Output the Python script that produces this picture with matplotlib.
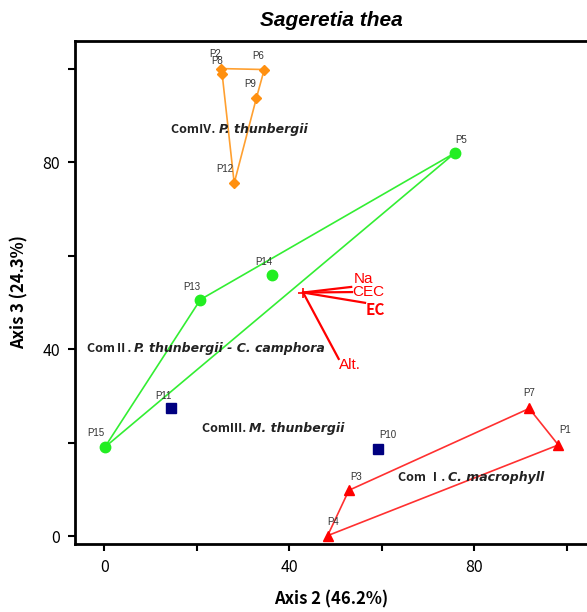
import matplotlib.pyplot as plt

# Sageretia thea - ordination plot (Axis 2 vs Axis 3)
plt.rcParams['font.family'] = ['Liberation Sans', 'DejaVu Sans']

plots = ['P1', 'P7', 'P3', 'P4', 'P10', 'P11', 'P15', 'P13', 'P14', 'P5',
         'P2', 'P8', 'P6', 'P9', 'P12']
axis2 = [98.2, 91.9, 52.9, 48.3, 59.1, 14.5, 0.1, 20.8, 36.3, 75.9,
         25.3, 25.5, 34.6, 32.9, 28.1]
axis3 = [19.5, 27.3, 9.8, 0.1, 18.6, 27.5, 19.0, 50.6, 55.8, 82.0,
         100.0, 98.8, 99.8, 93.7, 75.5]
community = ['I', 'I', 'I', 'I', 'III', 'III', 'II', 'II', 'II', 'II',
             'IV', 'IV', 'IV', 'IV', 'IV']

# hull outlines drawn in the original
hull_I = ['P4', 'P3', 'P7', 'P1', 'P4']
hull_II = ['P15', 'P13', 'P5', 'P15']
hull_IV = ['P2', 'P6', 'P9', 'P12', 'P8', 'P2']

# environmental vectors
env_names = ['Na', 'CEC', 'EC', 'Alt.']
env_origin = (43.0, 52.1)
env_x = [53.4, 53.6, 56.4, 50.7]
env_y = [53.3, 52.2, 49.9, 37.9]

styles = {
    'I': dict(marker='^', color='#ff0000', ms=7.5),
    'II': dict(marker='o', color='#22ee22', ms=7.5),
    'III': dict(marker='s', color='#000080', ms=7),
    'IV': dict(marker='D', color='#ff9010', ms=5),
}
hull_colors = {'I': '#ff3030', 'II': '#33ee33', 'IV': '#ffa030'}

# label offsets in pixels (dx, dy)
lab_off = {'P1': (7, 15), 'P7': (0, 15), 'P3': (7, 13), 'P4': (6, 14),
           'P10': (10, 14), 'P11': (-8, 12), 'P15': (-9, 14), 'P13': (-9, 13),
           'P14': (-8, 13), 'P5': (6, 13), 'P2': (-6, 15), 'P8': (-5, 13),
           'P6': (-6, 14), 'P9': (-6, 14), 'P12': (-9, 14)}

cjk = ['Noto Sans CJK KR', 'DejaVu Sans']

fig = plt.figure(figsize=(5.87, 6.12), dpi=100)
ax = fig.add_axes([0.128, 0.111, 0.872, 0.822])

pos = {p: (x, y) for p, x, y in zip(plots, axis2, axis3)}

for grp, hull in [('I', hull_I), ('II', hull_II), ('IV', hull_IV)]:
    ax.plot([pos[p][0] for p in hull], [pos[p][1] for p in hull],
            color=hull_colors[grp], lw=1.2, zorder=2)

for p, x, y, c in zip(plots, axis2, axis3, community):
    st = styles[c]
    ax.plot(x, y, marker=st['marker'], color=st['color'], ms=st['ms'],
            ls='none', zorder=3)
    dx, dy = lab_off[p]
    ax.annotate(p, (x, y), xytext=(dx, dy), textcoords='offset pixels',
                ha='center', va='center', fontsize=7, color='#333333')

# vectors
ox, oy = env_origin
for ex, ey in zip(env_x, env_y):
    ax.plot([ox, ex], [oy, ey], color='red', lw=1.6, zorder=2)
ax.plot(ox, oy, marker='+', color='red', ms=7, mew=1.2)
ax.text(53.9, 55.0, 'Na', color='red', fontsize=11, va='center')
ax.text(53.7, 52.2, 'CEC', color='red', fontsize=11, va='center')
ax.text(56.6, 48.4, 'EC', color='red', fontsize=11, va='center',
        fontweight='bold', family=cjk)
ax.text(50.8, 36.5, 'Alt.', color='red', fontsize=11, va='center')

# community labels: plain prefix + italic species name
com_labels = [
    (14.5, 87.0, 'ComⅣ. ', 'P. thunbergii'),
    (-3.7, 40.2, 'ComⅡ. ', 'P. thunbergii - C. camphora'),
    (21.2, 23.0, 'ComⅢ. ', 'M. thunbergii'),
    (63.6, 12.6, 'Com Ⅰ. ', 'C. macrophyll'),
]
for x, y, pre, sp in com_labels:
    t = ax.text(x, y, pre, fontsize=9, fontweight='bold', va='center',
                family=cjk, color='#222222')
    ax.annotate(sp, xy=(1, 0.5), xycoords=t, va='center', ha='left',
                fontsize=9, fontweight='bold', fontstyle='italic',
                family=['DejaVu Sans'], color='#222222')

ax.set_xlim(-6.3, 104.4)
ax.set_ylim(-1.7, 105.9)
ax.set_xticks([0, 40, 80])
ax.set_yticks([0, 40, 80])
ax.set_xticks([20, 60, 100], minor=True)
ax.set_yticks([20, 60, 100], minor=True)
ax.tick_params(which='both', direction='out', length=5, width=1.5,
               labelsize=11.5, pad=6)
for lab in ax.get_xticklabels() + ax.get_yticklabels():
    lab.set_family(cjk)
for s in ['left', 'bottom', 'top']:
    ax.spines[s].set_linewidth(2)
ax.spines['right'].set_visible(False)

ax.set_xlabel('Axis 2 (46.2%)', fontsize=12, fontweight='bold', labelpad=10,
              family=cjk)
ax.set_ylabel('Axis 3 (24.3%)', fontsize=12, fontweight='bold', labelpad=10,
              family=cjk)
ax.set_title('Sageretia thea', fontsize=15, fontweight='bold',
             fontstyle='italic', pad=11)

fig.savefig('out.png', dpi=100)
